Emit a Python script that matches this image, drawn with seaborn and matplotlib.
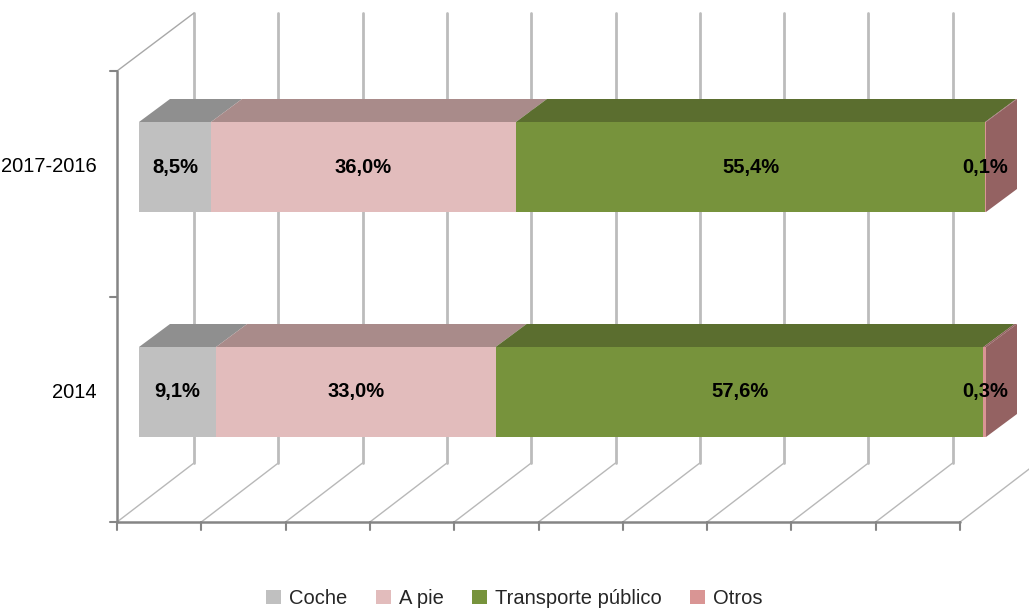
import matplotlib
matplotlib.use("Agg")
import matplotlib.pyplot as plt
from matplotlib.patches import Polygon, Patch
import seaborn as sns
import pandas as pd
import numpy as np

# ---- data ----
categories = ["2017-2016", "2014"]
series_names = ["Coche", "A pie", "Transporte público", "Otros"]
coche = [8.5, 9.1]
a_pie = [36.0, 33.0]
transporte = [55.4, 57.6]
otros = [0.1, 0.3]
x_ticks = list(range(0, 101, 10))

front_colors = ["#c0c0c0", "#e2bcbc", "#77933c", "#d99594"]
top_colors = ["#8f8f8f", "#a98b8a", "#5b6e2f", "#946262"]

sns.set_theme(style="white")
plt.rcParams['font.family'] = ['Liberation Sans', 'DejaVu Sans']

W, H = 1029, 608
fig = plt.figure(figsize=(W / 100, H / 100), dpi=100)

# background axes: x in percent (front plane), y in pixels
PX0, PXS = 117.0, 8.43
ax = fig.add_axes([0, 0, 1, 1])
ax.set_xlim(-PX0 / PXS, (W - PX0) / PXS)
ax.set_ylim(H, 0)
ax.axis("off")

depth = 77.0 / PXS   # back-wall offset in percent units
y_front, y_back, y_top, y_wall_top = 522, 463, 13, 71
grid_c = "#bcbcbc"
axis_c = "#858585"
for t in x_ticks:
    ax.plot([t, t + depth], [y_front, y_back], color="#b8b8b8", lw=1.0, zorder=1)
    ax.plot([t + depth, t + depth], [y_back, y_top], color=grid_c, lw=2.0, zorder=1)
    ax.plot([t, t], [y_front, y_front + 8], color=axis_c, lw=1.5, zorder=1)
ax.plot([0, 100], [y_front, y_front], color=axis_c, lw=1.8, zorder=2)
ax.plot([0, 0], [y_wall_top, y_front], color=axis_c, lw=1.8, zorder=2)
ax.plot([0, depth], [y_wall_top, y_top], color="#a8a8a8", lw=1.0, zorder=1)
for yy in [y_wall_top, 297, y_front]:
    ax.plot([-7 / PXS, 0], [yy, yy], color=axis_c, lw=1.5, zorder=2)

# bar axes: x in percent (bar plane), y categorical
BX0, BXS = 139.0, 8.47
CY0, CYS = 167.0, 225.0
axb = fig.add_axes([0, 0, 1, 1])
axb.patch.set_alpha(0)

df = pd.DataFrame({"cat": categories, "Coche": coche, "A pie": a_pie,
                   "Transporte público": transporte, "Otros": otros})
vals = df[series_names].to_numpy()
cum = np.cumsum(vals, axis=1)
for j in reversed(range(len(series_names))):
    d = pd.DataFrame({"cat": categories, "v": cum[:, j]})
    sns.barplot(data=d, x="v", y="cat", orient="h", color=front_colors[j],
                width=0.4, saturation=1, ax=axb, zorder=3, linewidth=0)

axb.set_xlim(-BX0 / BXS, (W - BX0) / BXS)
axb.set_ylim((H - CY0) / CYS, -CY0 / CYS)
axb.axis("off")

dx = 31.0 / BXS
dy = 23.0 / CYS
hw = 0.2
for i in range(len(categories)):
    top = i - hw
    bot = i + hw
    for j in range(len(series_names)):
        left = cum[i, j] - vals[i, j]
        right = cum[i, j]
        poly = Polygon([(left, top), (right, top), (right + dx, top - dy), (left + dx, top - dy)],
                       closed=True, facecolor=top_colors[j], edgecolor="none", zorder=4)
        axb.add_patch(poly)
        lbl = f"{vals[i, j]:.1f}".replace(".", ",") + "%"
        axb.text((left + right) / 2, i, lbl, ha="center", va="center",
                 fontsize=14.5, fontweight="bold", color="black", zorder=6)
    end = cum[i, -1]
    side = Polygon([(end, top), (end + dx, top - dy), (end + dx, bot - dy), (end, bot)],
                   closed=True, facecolor=top_colors[-1], edgecolor="none", zorder=4)
    axb.add_patch(side)
    axb.text((97 - BX0) / BXS, i, categories[i], ha="right", va="center",
             fontsize=14.5, color="black")

handles = [Patch(facecolor=c, edgecolor="none", label=n) for c, n in zip(front_colors, series_names)]
fig.legend(handles=handles, loc="lower center", bbox_to_anchor=(0.5, -0.03), ncol=4,
           frameon=False, fontsize=14.5, handlelength=0.75, handleheight=0.75,
           handletextpad=0.4, columnspacing=1.4)

fig.savefig("out.png", dpi=100)
